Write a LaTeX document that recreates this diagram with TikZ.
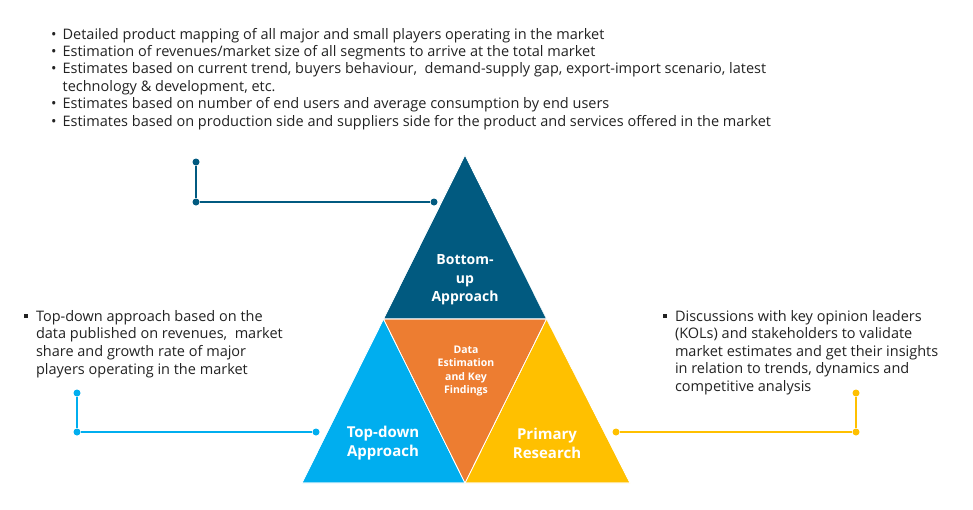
\documentclass[tikz,border=0pt]{standalone}
\usepackage{fontspec}
\setmainfont{Open Sans}
\usepackage{xcolor}
\usepackage{tikz}

\definecolor{bottomblue}{RGB}{1,90,128}
\definecolor{topblue}{RGB}{0,174,239}
\definecolor{keyorange}{RGB}{237,125,49}
\definecolor{primyellow}{RGB}{255,192,0}
\definecolor{bodytext}{RGB}{34,34,34}

\newcommand{\sqbul}{\rule[2.8pt]{3.8pt}{3.8pt}}

\begin{document}
\begin{tikzpicture}[x=1pt, y=-1pt,
  dot/.style={circle, fill=#1, inner sep=0pt, minimum size=7pt},
  link/.style={line width=2pt, draw=#1},
  piece/.style={fill=#1, draw=white, line width=0.6pt, line join=round},
  label/.style={text=white, font=\bfseries\fontsize{14}{18.5}\selectfont, align=center},
  bodylist/.style={text=bodytext, inner sep=0pt, anchor=base west}]
  \useasboundingbox (0,0) rectangle (973,509);

  % pyramid
  \coordinate (apex) at (465,155);
  \coordinate (ml) at (383.5,319);
  \coordinate (mr) at (546.5,319);
  \coordinate (bl) at (302,483);
  \coordinate (bm) at (465,483);
  \coordinate (br) at (630,483);
  \fill[piece=bottomblue] (apex) -- (mr) -- (ml) -- cycle;
  \fill[piece=topblue] (ml) -- (bm) -- (bl) -- cycle;
  \fill[piece=primyellow] (mr) -- (br) -- (bm) -- cycle;
  \fill[piece=keyorange] (ml) -- (mr) -- (bm) -- cycle;
  \draw[white, line width=0.6pt, line join=round] (apex) -- (br) -- (bl) -- cycle (ml) -- (mr) -- (bm) -- cycle;

  \node[label] (bottomup) at (465,280) {Bottom-\\up\\Approach};
  \node[label, font=\bfseries\fontsize{10.5}{13.5}\selectfont] (datakey) at (466,371) {Data\\Estimation\\and Key\\Findings};
  \node[label, font=\bfseries\fontsize{15}{19}\selectfont] (topdown) at (383,443) {Top-down\\Approach};
  \node[label, font=\bfseries\fontsize{15}{19}\selectfont] (primary) at (547,443) {Primary\\Research};

  % connectors
  \node[dot=bottomblue] (bu1) at (196,162) {};
  \node[dot=bottomblue] (bu2) at (196,202) {};
  \node[dot=bottomblue] (bu3) at (434,202) {};
  \draw[link=bottomblue] (bu1) -- (bu2) -- (bu3);
  \node[dot=topblue] (td1) at (77,393) {};
  \node[dot=topblue] (td2) at (77,432) {};
  \node[dot=topblue] (td3) at (316,432) {};
  \draw[link=topblue] (td1) -- (td2) -- (td3);
  \node[dot=primyellow] (pr1) at (616,432) {};
  \node[dot=primyellow] (pr2) at (856,432) {};
  \node[dot=primyellow] (pr3) at (856,393) {};
  \draw[link=primyellow] (pr1) -- (pr2) -- (pr3);

  % texts
  \node[bodylist, font=\fontsize{14.5}{17.4}\selectfont] (bottomtext) at (51,39) {%
    \begin{tabular}[t]{@{}l@{\hspace{6pt}}l@{}}
      • & Detailed product mapping of all major and small players operating in the market\\
      • & Estimation of revenues/market size of all segments to arrive at the total market\\
      • & Estimates based on current trend, buyers behaviour,\ \ demand-supply gap, export-import scenario, latest\\
        & technology \& development, etc.\\
      • & Estimates based on number of end users and average consumption by end users\\
      • & Estimates based on production side and suppliers side for the product and services offered in the market
    \end{tabular}};
  \node[bodylist, font=\fontsize{14.5}{17.7}\selectfont] (toptext) at (24,321) {%
    \begin{tabular}[t]{@{}l@{\hspace{8pt}}l@{}}
      \sqbul & Top-down approach based on the\\
             & data published on revenues,\ \ market\\
             & share and growth rate of major\\
             & players operating in the market
    \end{tabular}};
  \node[bodylist, font=\fontsize{14.5}{17.6}\selectfont] (primtext) at (663,321) {%
    \begin{tabular}[t]{@{}l@{\hspace{8pt}}l@{}}
      \sqbul & Discussions with key opinion leaders\\
             & (KOLs) and stakeholders to validate\\
             & market estimates and get their insights\\
             & in relation to trends, dynamics and\\
             & competitive analysis
    \end{tabular}};
\end{tikzpicture}
\end{document}
